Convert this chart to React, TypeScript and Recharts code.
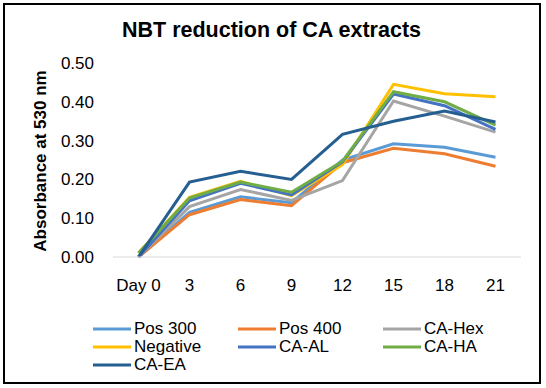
import React from 'react';
import { LineChart, Line, XAxis, YAxis } from 'recharts';

const days = ['Day 0', '3', '6', '9', '12', '15', '18', '21'];

const pos300 = [0.0, 0.115, 0.155, 0.14, 0.25, 0.292, 0.283, 0.257];
const pos400 = [0.0, 0.109, 0.148, 0.132, 0.243, 0.28, 0.266, 0.234];
const caHex = [0.0, 0.13, 0.174, 0.146, 0.197, 0.402, 0.363, 0.322];
const negative = [0.01, 0.154, 0.195, 0.158, 0.238, 0.445, 0.421, 0.413];
const caAL = [0.0, 0.145, 0.19, 0.16, 0.245, 0.42, 0.39, 0.329];
const caHA = [0.01, 0.152, 0.193, 0.167, 0.247, 0.426, 0.4, 0.34];
const caEA = [0.0, 0.193, 0.221, 0.2, 0.316, 0.35, 0.376, 0.348];

const yTicks = [0, 0.1, 0.2, 0.3, 0.4, 0.5];

const series = [
  { key: 'Pos 300', values: pos300, color: '#5B9BD5' },
  { key: 'Pos 400', values: pos400, color: '#ED7D31' },
  { key: 'CA-Hex', values: caHex, color: '#A5A5A5' },
  { key: 'Negative', values: negative, color: '#FFC000' },
  { key: 'CA-AL', values: caAL, color: '#4472C4' },
  { key: 'CA-HA', values: caHA, color: '#70AD47' },
  { key: 'CA-EA', values: caEA, color: '#255E91' },
];

const data = days.map((day, i) => {
  const row: Record<string, string | number> = { day };
  series.forEach((s) => {
    row[s.key] = s.values[i];
  });
  return row;
});

const font = '"Liberation Sans", Arial, sans-serif';

const App: React.FC = () => {
  return (
    <div style={{ position: 'absolute', left: 0, top: 0, width: 546, height: 388, background: '#fff', fontFamily: font }}>
      {/* chart border */}
      <div
        style={{
          position: 'absolute', left: 3, top: 3, width: 538, height: 381,
          border: '2px solid #000', boxSizing: 'border-box',
        }}
      />
      <div
        style={{
          position: 'absolute', left: 0, top: 17, width: 543, textAlign: 'center',
          fontSize: 21.5, fontWeight: 'bold', lineHeight: '26px',
        }}
      >
        NBT reduction of CA extracts
      </div>

      <div style={{ position: 'absolute', left: 0, top: 0 }}>
        <LineChart
          width={546}
          height={388}
          data={data}
          margin={{ top: 63, right: 25, bottom: 101, left: 33 }}
        >
          <XAxis
            dataKey="day"
            height={30}
            padding={{ left: 25.5, right: 25.5 }}
            tickLine={false}
            tickMargin={16}
            axisLine={{ stroke: '#d9d9d9', strokeWidth: 1 }}
            tick={{ fill: '#000', fontSize: 17, fontFamily: font }}
            interval={0}
          />
          <YAxis
            width={80}
            domain={[0, 0.5]}
            ticks={yTicks}
            tickFormatter={(v: number) => v.toFixed(2)}
            axisLine={false}
            tickLine={false}
            tickMargin={13}
            tick={{ fill: '#000', fontSize: 17, fontFamily: font }}
            label={{
              content: () => (
                <text
                  x={40}
                  y={161}
                  transform="rotate(-90 40 161)"
                  textAnchor="middle"
                  dominantBaseline="central"
                  fontSize={17}
                  fontWeight="bold"
                  fontFamily={font}
                  fill="#000"
                >
                  Absorbance at 530 nm
                </text>
              ),
            }}
          />
          {series.map((s) => (
            <Line
              key={s.key}
              type="linear"
              dataKey={s.key}
              stroke={s.color}
              strokeWidth={3}
              dot={false}
              activeDot={false}
              isAnimationActive={false}
            />
          ))}
        </LineChart>
      </div>

      {/* legend */}
      <div style={{ position: 'absolute', left: 93, top: 320, width: 440 }}>
        {series.map((s, i) => (
          <div
            key={s.key}
            style={{
              position: 'absolute',
              left: (i % 3) * 145,
              top: Math.floor(i / 3) * 18,
              height: 18,
              display: 'flex',
              alignItems: 'center',
              whiteSpace: 'nowrap',
            }}
          >
            <svg width={38} height={6} style={{ display: 'block' }}>
              <line x1={0} y1={3} x2={38} y2={3} stroke={s.color} strokeWidth={3} />
            </svg>
            <span style={{ marginLeft: 3, fontSize: 17, lineHeight: '18px', color: '#000' }}>{s.key}</span>
          </div>
        ))}
      </div>
    </div>
  );
};

export default App;
